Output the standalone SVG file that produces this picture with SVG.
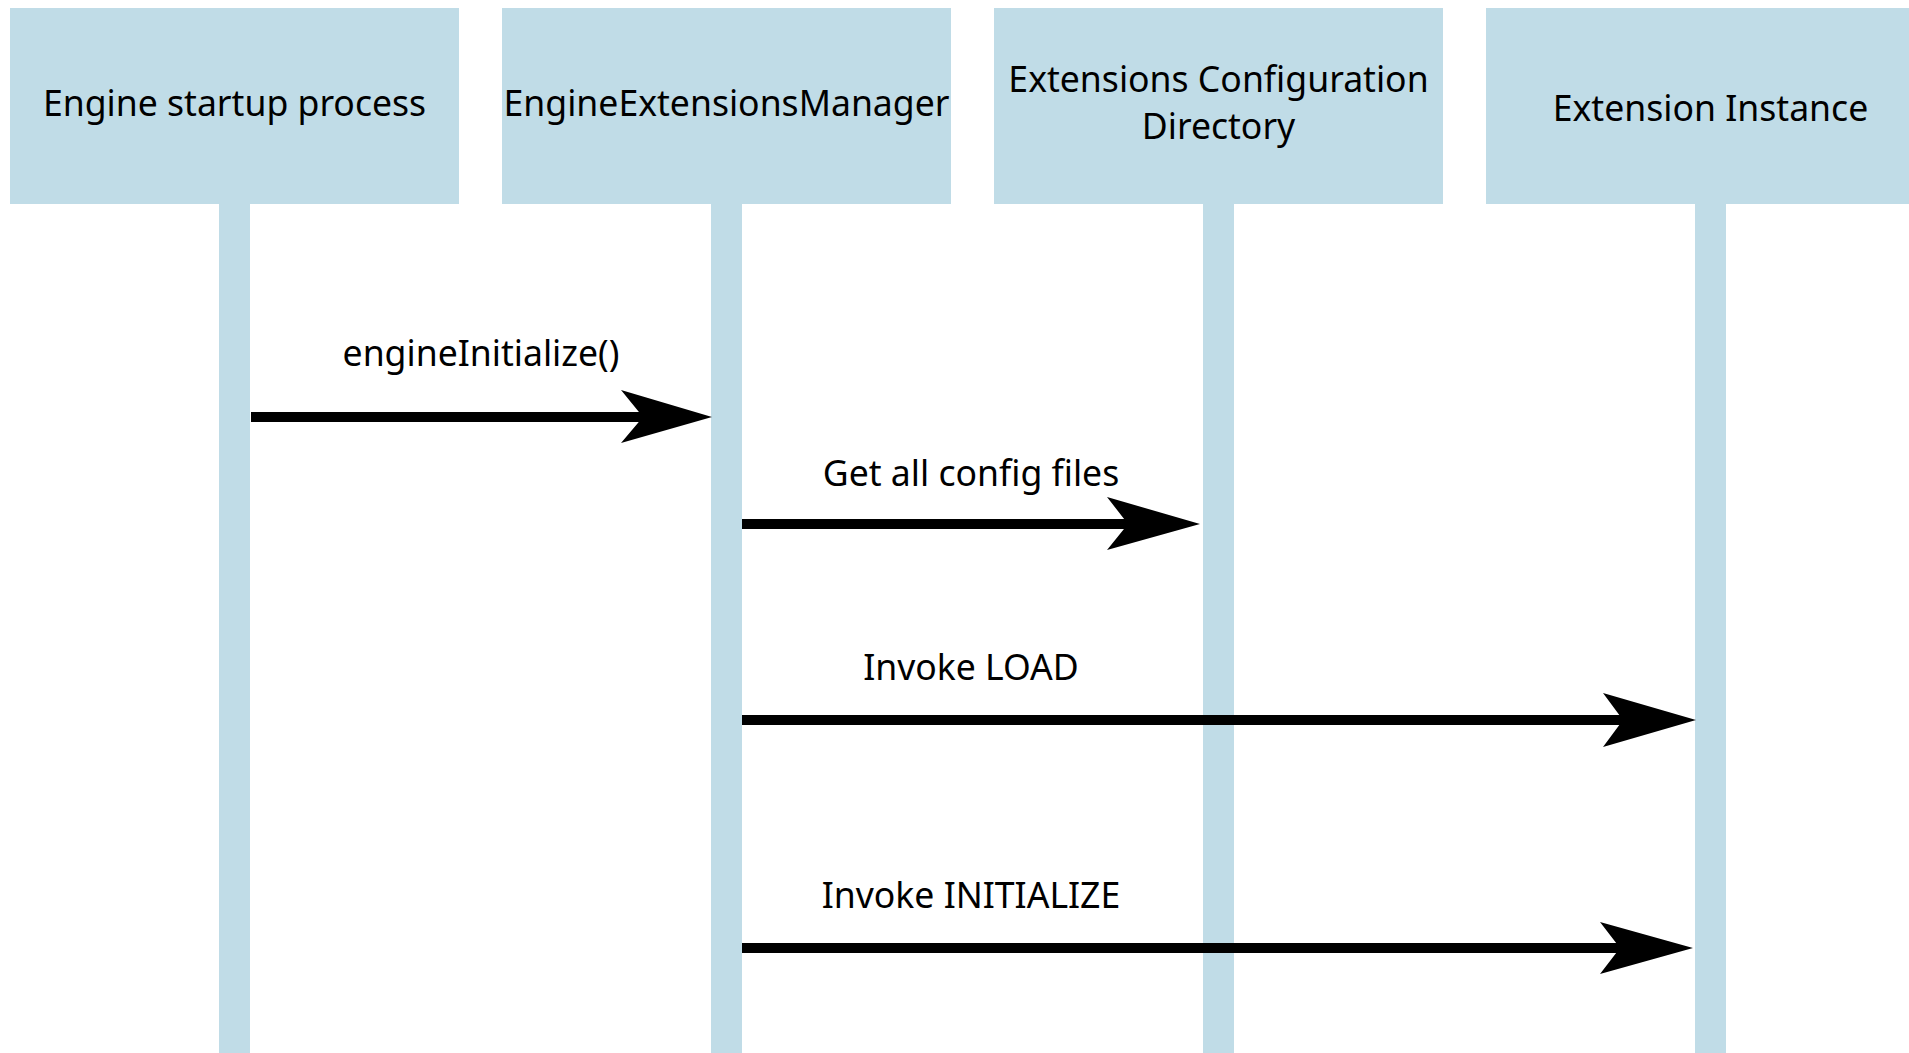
<svg xmlns="http://www.w3.org/2000/svg" width="1909" height="1053" viewBox="0 0 1909 1053">
<defs>
<style>
.box{fill:#c0dce7}
.life{fill:#c0dce7}
.lbl{font-family:"Noto Sans","Open Sans","DejaVu Sans",sans-serif;font-size:35.6px;fill:#000;text-anchor:middle}
.msg{stroke:#000;stroke-width:10;fill:none}
.head{fill:#000}
</style>
</defs>
<rect width="1909" height="1053" fill="#ffffff"/>
<g id="node-engine-startup">
<rect class="box" x="10" y="8" width="449" height="196"/>
<rect class="life" x="219" y="204" width="31" height="849"/>
<text class="lbl" x="234.5" y="116">Engine startup process</text>
</g>
<g id="node-manager">
<rect class="box" x="502" y="8" width="449" height="196"/>
<rect class="life" x="711" y="204" width="31" height="849"/>
<text class="lbl" x="726.5" y="116">EngineExtensionsManager</text>
</g>
<g id="node-config-dir">
<rect class="box" x="994" y="8" width="449" height="196"/>
<rect class="life" x="1203" y="204" width="31" height="849"/>
<text class="lbl" x="1218.5" y="92">Extensions Configuration</text>
<text class="lbl" x="1218.5" y="139">Directory</text>
</g>
<g id="node-extension-instance">
<rect class="box" x="1486" y="8" width="449" height="196"/>
<rect class="life" x="1695" y="204" width="31" height="849"/>
<text class="lbl" x="1710.5" y="121">Extension Instance</text>
</g>
<g id="connectors">
<line class="msg" x1="251" y1="417" x2="660" y2="417"/>
<polygon class="head" points="712,417 621,390 643,417 621,443"/>
<text class="lbl" x="481" y="366">engineInitialize()</text>
<line class="msg" x1="742" y1="524" x2="1150" y2="524"/>
<polygon class="head" points="1200,524 1107,497 1128,524 1107,550"/>
<text class="lbl" x="971" y="486">Get all config files</text>
<line class="msg" x1="742" y1="720" x2="1640" y2="720"/>
<polygon class="head" points="1696,720 1603,693 1623,720 1603,747"/>
<text class="lbl" x="971" y="680">Invoke LOAD</text>
<line class="msg" x1="742" y1="948" x2="1640" y2="948"/>
<polygon class="head" points="1693,948 1600,922 1620,948 1600,974"/>
<text class="lbl" x="971" y="908">Invoke INITIALIZE</text>
</g>
</svg>
